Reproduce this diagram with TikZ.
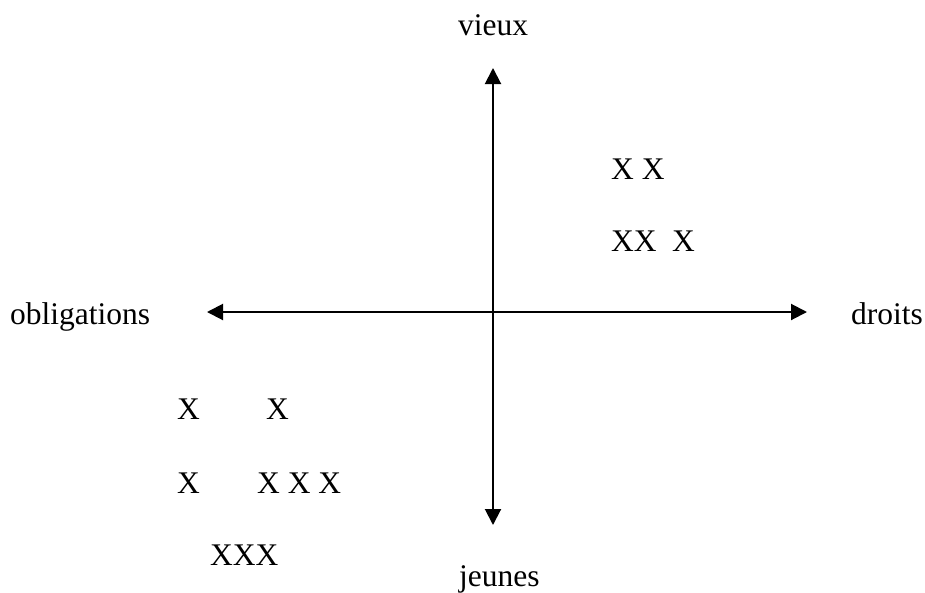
\documentclass[tikz,border=0pt]{standalone}
\usepackage{fontspec}
\setmainfont{Liberation Serif}
\usetikzlibrary{arrows.meta}
\begin{document}
\begin{tikzpicture}[x=1pt,y=-1pt,
  lbl/.style={anchor=base west,inner sep=0pt,font=\fontsize{31.5}{36}\selectfont},
  axis/.style={line width=2pt,{Triangle[length=16pt,width=16pt]}-{Triangle[length=16pt,width=16pt]}}]
\useasboundingbox (0,0) rectangle (925,592);
% axes
\coordinate (top) at (493,68);
\coordinate (bot) at (493,525);
\coordinate (lft) at (207,312);
\coordinate (rgt) at (807,312);
\draw[axis] (bot) -- (top);
\draw[axis] (lft) -- (rgt);
% axis labels
\node[lbl] (vieux) at (458,35) {vieux};
\node[lbl] (jeunes) at (459,586) {jeunes};
\node[lbl] (oblig) at (10,324) {obligations};
\node[lbl] (droits) at (851,324) {droits};
% upper right group
\node[lbl] (ur1) at (611,179) {X X};
\node[lbl] (ur2a) at (611,251) {XX};
\node[lbl] (ur2b) at (672,251) {X};
% lower left group
\node[lbl] (ll1a) at (177,419) {X};
\node[lbl] (ll1b) at (266,419) {X};
\node[lbl] (ll2a) at (177,493) {X};
\node[lbl] (ll2b) at (257,493) {X X X};
\node[lbl] (ll3) at (210,565) {XXX};
\end{tikzpicture}
\end{document}
